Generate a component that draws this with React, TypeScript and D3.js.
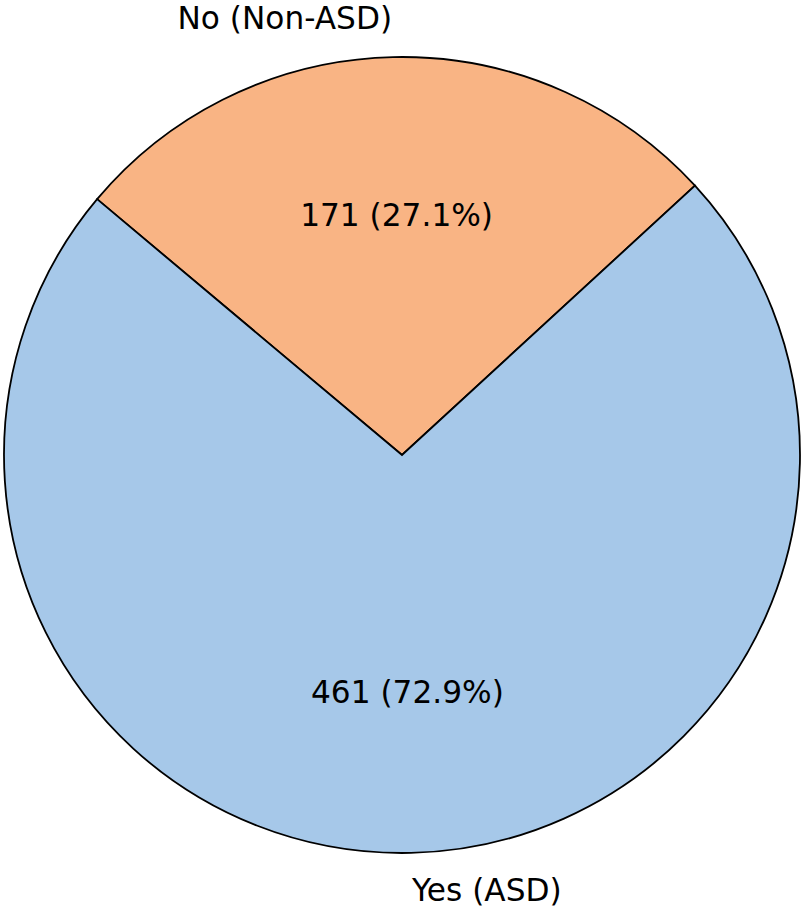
import React from 'react'
import * as d3 from 'd3'

// pie data (order as drawn, clockwise from start angle)
const labels = ['No (Non-ASD)', 'Yes (ASD)']
const counts = [171, 461]
const colors = ['#f9b484', '#a6c8e9']

const W = 805
const H = 911

export default function App() {
  const cx = 402
  const cy = 455
  const r = 398
  const total = d3.sum(counts)

  // matplotlib startangle=140, clockwise -> d3 angle (clockwise from 12 o'clock)
  const start = ((90 - 140) * Math.PI) / 180
  const pie = d3
    .pie<number>()
    .sort(null)
    .startAngle(start)
    .endAngle(start + 2 * Math.PI)
  const arcs = pie(counts)
  const arcGen = d3.arc<d3.PieArcDatum<number>>().innerRadius(0).outerRadius(r)

  const fontSize = 31.2

  return (
    <svg
      width={W}
      height={H}
      style={{ position: 'absolute', left: 0, top: 0, background: '#fff' }}
    >
      <g transform={`translate(${cx},${cy})`}>
        {arcs.map((a, i) => (
          <path
            key={'w' + i}
            d={arcGen(a) || ''}
            fill={colors[i]}
            stroke="#000"
            strokeWidth={1.8}
            strokeLinejoin="miter"
          />
        ))}
        {arcs.map((a, i) => {
          const mid = (a.startAngle + a.endAngle) / 2
          const sx = Math.sin(mid)
          const sy = -Math.cos(mid)
          const lx = 1.1 * r * sx
          const ly = 1.1 * r * sy
          const px = 0.6 * r * sx
          const py = 0.6 * r * sy
          const pct = ((counts[i] / total) * 100).toFixed(1)
          return (
            <g key={'t' + i} fontFamily="DejaVu Sans" fontSize={fontSize} fill="#000">
              <text x={lx} y={ly} dy={sy < 0 ? '0.36em' : '0.28em'} textAnchor={lx < 0 ? 'end' : 'start'}>
                {labels[i]}
              </text>
              <text x={px} y={py} dy="0.3em" textAnchor="middle">
                {`${counts[i]} (${pct}%)`}
              </text>
            </g>
          )
        })}
      </g>
    </svg>
  )
}
